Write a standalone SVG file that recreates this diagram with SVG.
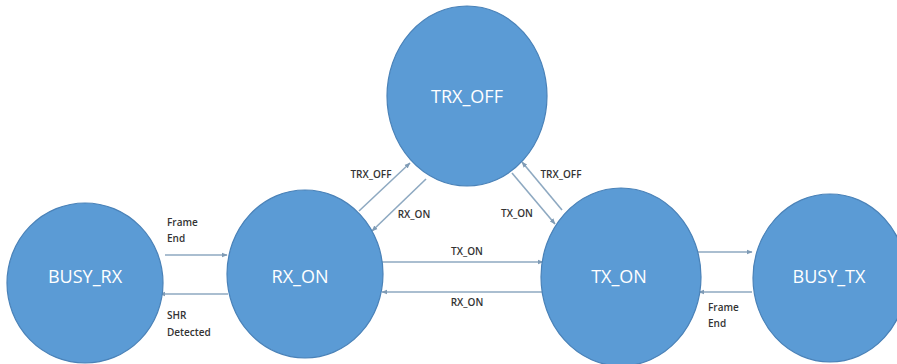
<svg xmlns="http://www.w3.org/2000/svg" width="897" height="364" viewBox="0 0 897 364">
<style>
.node{fill:#5b9bd5;stroke:#4a82b8;stroke-width:1.2}
.nl{font-family:"Open Sans","Liberation Sans",sans-serif;font-size:18px;fill:#ffffff;text-anchor:middle}
.el{font-family:"Open Sans","Liberation Sans",sans-serif;font-size:10px;fill:#333333;font-weight:600}
.c{stroke:#8ea9c1;stroke-width:1.6;fill:none;marker-end:url(#ah)}
</style>
<defs>
<marker id="ah" viewBox="0 0 10 10" refX="9" refY="5" markerWidth="6" markerHeight="6" orient="auto" markerUnits="userSpaceOnUse">
<path d="M0,1 L10,5 L0,9 z" fill="#7f9bb5"/>
</marker>
</defs>
<rect width="897" height="364" fill="#ffffff"/>
<g id="connectors">
<line class="c" x1="165" y1="255" x2="227" y2="255"/>
<line class="c" x1="228" y1="294" x2="160" y2="294"/>
<line class="c" x1="382" y1="262" x2="543" y2="262"/>
<line class="c" x1="543" y1="292" x2="382" y2="292"/>
<line class="c" x1="359" y1="211" x2="410" y2="163"/>
<line class="c" x1="426" y1="179" x2="372" y2="231"/>
<line class="c" x1="562" y1="210" x2="522" y2="162"/>
<line class="c" x1="512" y1="173" x2="555" y2="224"/>
<line class="c" x1="697" y1="252" x2="752" y2="252"/>
<line class="c" x1="752" y1="292" x2="699" y2="292"/>
<text class="el" x="167" y="226">Frame</text>
<text class="el" x="167" y="242">End</text>
<text class="el" x="167" y="319">SHR</text>
<text class="el" x="167" y="336">Detected</text>
<text class="el" x="467" y="255" text-anchor="middle">TX_ON</text>
<text class="el" x="467" y="306" text-anchor="middle">RX_ON</text>
<text class="el" x="371" y="178" text-anchor="middle">TRX_OFF</text>
<text class="el" x="414" y="218" text-anchor="middle">RX_ON</text>
<text class="el" x="561" y="178" text-anchor="middle">TRX_OFF</text>
<text class="el" x="517" y="217" text-anchor="middle">TX_ON</text>
<text class="el" x="708" y="311">Frame</text>
<text class="el" x="708" y="327">End</text>
</g>
<g id="TRX_OFF">
<ellipse class="node" cx="467" cy="96" rx="80" ry="90"/>
<text class="nl" x="467" y="103">TRX_OFF</text>
</g>
<g id="BUSY_RX">
<ellipse class="node" cx="85" cy="283" rx="78" ry="80"/>
<text class="nl" x="85" y="283">BUSY_RX</text>
</g>
<g id="RX_ON">
<ellipse class="node" cx="305" cy="274" rx="78" ry="84"/>
<text class="nl" x="300" y="283">RX_ON</text>
</g>
<g id="TX_ON">
<ellipse class="node" cx="621" cy="277" rx="80" ry="89"/>
<text class="nl" x="619" y="283">TX_ON</text>
</g>
<g id="BUSY_TX">
<ellipse class="node" cx="830" cy="278" rx="77" ry="84"/>
<text class="nl" x="829" y="283">BUSY_TX</text>
</g>
</svg>
